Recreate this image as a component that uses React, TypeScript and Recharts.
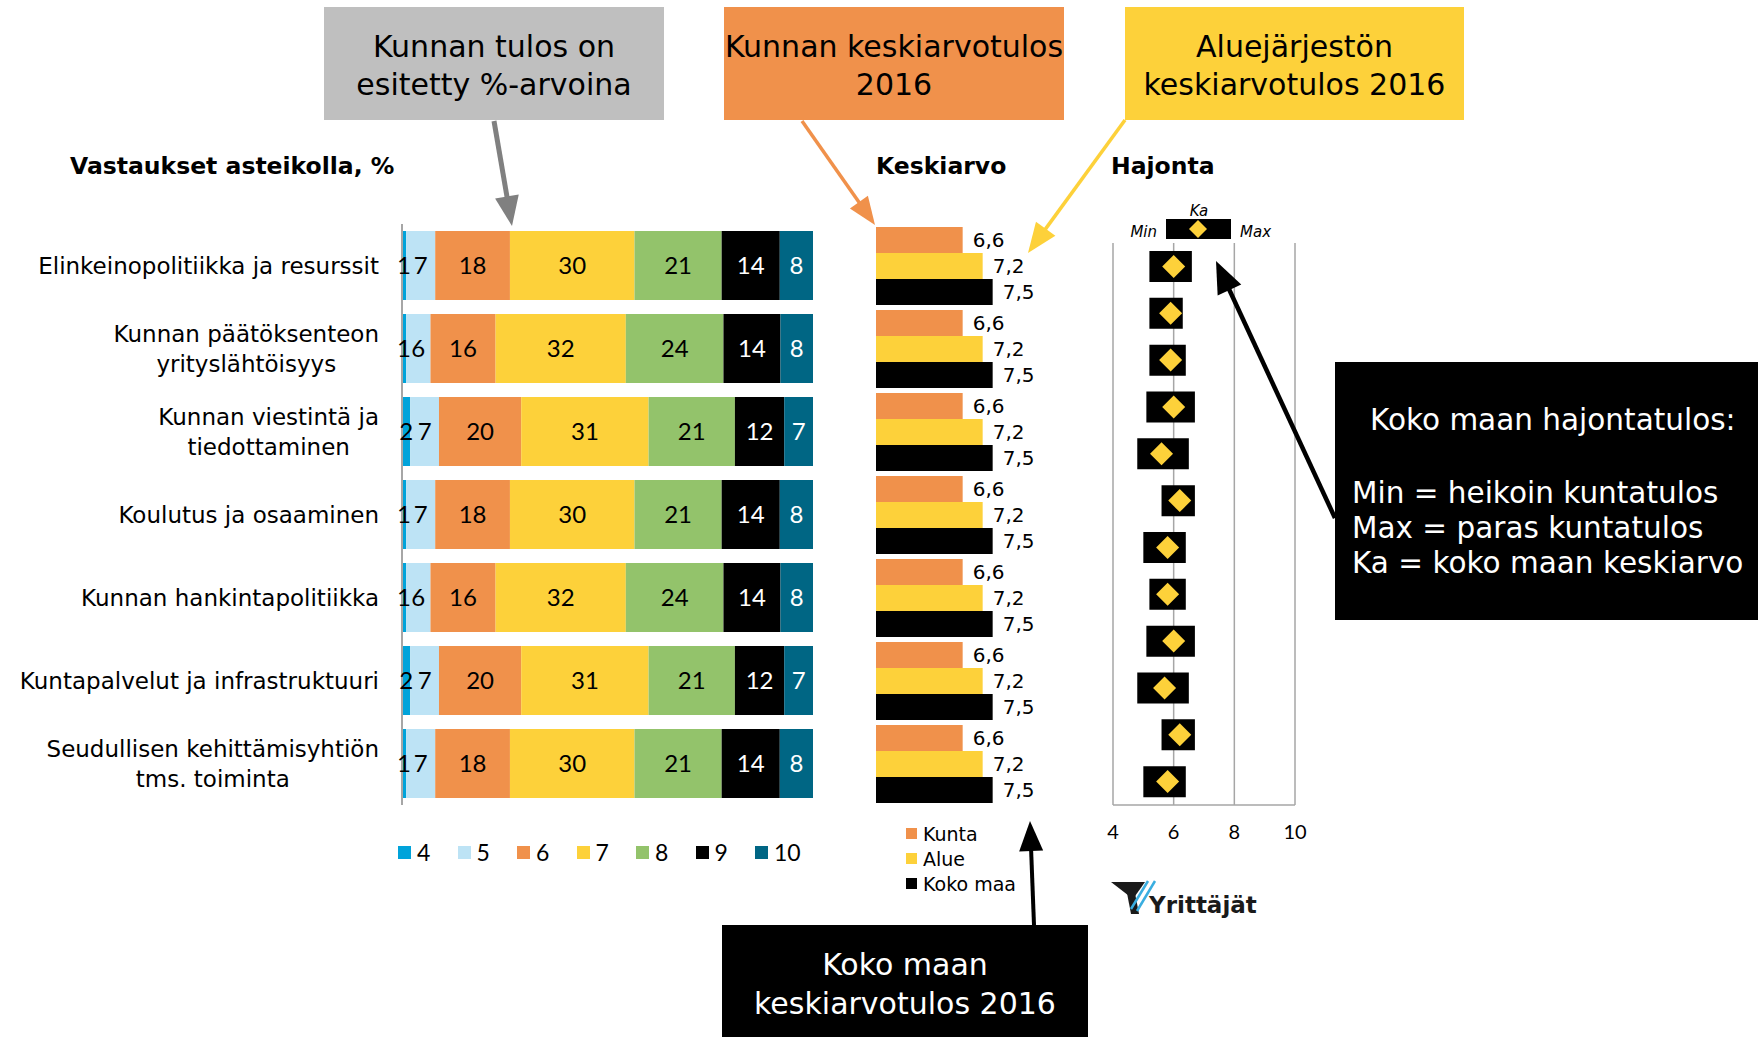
import React from 'react'
import {
  BarChart,
  Bar,
  XAxis,
  YAxis,
  LabelList,
  Legend,
  ComposedChart,
  Scatter,
  CartesianGrid,
} from 'recharts'

// Vastaukset asteikolla (%), rivit ylhäältä alas
const topics = [
  'Elinkeinopolitiikka ja resurssit',
  'Kunnan päätöksenteon\nyrityslähtöisyys',
  'Kunnan viestintä ja\ntiedottaminen',
  'Koulutus ja osaaminen',
  'Kunnan hankintapolitiikka',
  'Kuntapalvelut ja infrastruktuuri',
  'Seudullisen kehittämisyhtiön\ntms. toiminta',
]
const scaleNames = ['4', '5', '6', '7', '8', '9', '10']
const s4 = [1, 1, 2, 1, 1, 2, 1]
const s5 = [7, 6, 7, 7, 6, 7, 7]
const s6 = [18, 16, 20, 18, 16, 20, 18]
const s7 = [30, 32, 31, 30, 32, 31, 30]
const s8 = [21, 24, 21, 21, 24, 21, 21]
const s9 = [14, 14, 12, 14, 14, 12, 14]
const s10 = [8, 8, 7, 8, 8, 7, 8]

// Keskiarvo
const meanNames = ['Kunta', 'Alue', 'Koko maa']
const kunta = [6.6, 6.6, 6.6, 6.6, 6.6, 6.6, 6.6]
const alue = [7.2, 7.2, 7.2, 7.2, 7.2, 7.2, 7.2]
const kokoMaa = [7.5, 7.5, 7.5, 7.5, 7.5, 7.5, 7.5]

// Hajonta (min, max, koko maan keskiarvo)
const hajontaMin = [5.2, 5.2, 5.2, 5.1, 4.8, 5.6, 5.0, 5.2, 5.1, 4.8, 5.6, 5.0]
const hajontaMax = [6.6, 6.3, 6.4, 6.7, 6.5, 6.7, 6.4, 6.4, 6.7, 6.5, 6.7, 6.4]
const hajontaKa = [6.0, 5.9, 5.9, 6.0, 5.6, 6.2, 5.8, 5.8, 6.0, 5.7, 6.2, 5.8]
const hajontaTicks = [4, 6, 8, 10]

const scaleColors = ['#00A3DA', '#BDE3F5', '#F0914B', '#FDD13A', '#93C36B', '#000000', '#006684']
const labelColors = ['#000', '#000', '#000', '#000', '#000', '#fff', '#fff']
const GRAY = '#A6A6A6'
const FONT = '"DejaVu Sans", sans-serif'

const stackData = topics.map((t, i) => ({
  topic: t,
  s4: s4[i],
  s5: s5[i],
  s6: s6[i],
  s7: s7[i],
  s8: s8[i],
  s9: s9[i],
  s10: s10[i],
}))
const scaleKeys = ['s4', 's5', 's6', 's7', 's8', 's9', 's10']

const meanData = topics.map((t, i) => ({ topic: t, kunta: kunta[i], alue: alue[i], koko: kokoMaa[i] }))

const rangeData = hajontaMin.map((m, i) => ({
  id: 'r' + (i + 1),
  range: [m, hajontaMax[i]],
  ka: hajontaKa[i],
}))

let ctx: CanvasRenderingContext2D | null = null
function textWidth(t: string, font: string) {
  if (!ctx) ctx = document.createElement('canvas').getContext('2d')
  if (!ctx) return t.length * 12
  ctx.font = font
  return ctx.measureText(t).width
}

function TopicTick({ x, y, payload }: any) {
  const lines = String(payload.value).split('\n')
  const w = Math.max(...lines.map((l) => textWidth(l, '23px "DejaVu Sans"')))
  const cx = x - w / 2
  const y0 = y - ((lines.length - 1) * 30) / 2
  return (
    <g>
      {lines.map((l, i) => (
        <text
          key={i}
          x={cx}
          y={y0 + i * 30}
          textAnchor="middle"
          dominantBaseline="central"
          fontSize={23}
          fontFamily={FONT}
          fill="#000"
        >
          {l}
        </text>
      ))}
    </g>
  )
}

// pidä selitteen järjestys sarjojen järjestyksessä
const ordered = (payload: any[], names: string[]) =>
  [...(payload || [])].sort((a, b) => names.indexOf(a.value) - names.indexOf(b.value))

function ScaleLegend({ payload }: any) {
  return (
    <div style={{ display: 'flex', fontFamily: 'Lato, sans-serif', fontSize: 23 }}>
      {ordered(payload, scaleNames).map((p: any) => (
        <div key={p.value} style={{ width: 59.5, display: 'flex', alignItems: 'center' }}>
          <span style={{ width: 13, height: 13, background: p.color, display: 'inline-block', marginRight: 6 }} />
          <span>{p.value}</span>
        </div>
      ))}
    </div>
  )
}

function MeanLegend({ payload }: any) {
  return (
    <div style={{ fontFamily: FONT, fontSize: 19 }}>
      {ordered(payload, meanNames).map((p: any) => (
        <div key={p.value} style={{ height: 25, display: 'flex', alignItems: 'center' }}>
          <span style={{ width: 11, height: 11, background: p.color, display: 'inline-block', marginRight: 6 }} />
          <span>{p.value}</span>
        </div>
      ))}
    </div>
  )
}

const Diamond = (p: any) => {
  const { cx, cy } = p
  const r = 11.5
  return (
    <polygon
      points={`${cx},${cy - r} ${cx + r},${cy} ${cx},${cy + r} ${cx - r},${cy}`}
      fill="#FDD13A"
    />
  )
}

function Arrow({ x1, y1, x2, y2, color, width, len, half }: any) {
  const dx = x2 - x1
  const dy = y2 - y1
  const d = Math.sqrt(dx * dx + dy * dy)
  const ux = dx / d
  const uy = dy / d
  const bx = x2 - ux * len
  const by = y2 - uy * len
  const px = -uy * half
  const py = ux * half
  return (
    <g>
      <line x1={x1} y1={y1} x2={bx + ux * 2} y2={by + uy * 2} stroke={color} strokeWidth={width} />
      <polygon points={`${x2},${y2} ${bx + px},${by + py} ${bx - px},${by - py}`} fill={color} />
    </g>
  )
}

function Callout({ x, y, w, h, fill, color, lines, cy }: any) {
  return (
    <g>
      <rect x={x} y={y} width={w} height={h} fill={fill} />
      {lines.map((l: string, i: number) => (
        <text
          key={i}
          x={x + w / 2}
          y={cy[i]}
          textAnchor="middle"
          dominantBaseline="central"
          fontSize={30}
          fill={color}
        >
          {l}
        </text>
      ))}
    </g>
  )
}

function Overlay() {
  return (
    <svg
      width={1758}
      height={1037}
      style={{ position: 'absolute', left: 0, top: 0, pointerEvents: 'none' }}
      fontFamily={FONT}
    >
      <text x={70} y={166} fontSize={23.5} fontWeight="bold" dominantBaseline="central">
        Vastaukset asteikolla, %
      </text>
      <text x={876} y={166} fontSize={23.5} fontWeight="bold" dominantBaseline="central">
        Keskiarvo
      </text>
      <text x={1111} y={166} fontSize={23.5} fontWeight="bold" dominantBaseline="central">
        Hajonta
      </text>

      <Callout x={324} y={7} w={340} h={113} fill="#BFBFBF" color="#000" lines={['Kunnan tulos on', 'esitetty %-arvoina']} cy={[46, 84]} />
      <Callout x={724} y={7} w={340} h={113} fill="#F0914B" color="#000" lines={['Kunnan keskiarvotulos', '2016']} cy={[46, 84]} />
      <Callout x={1125} y={7} w={339} h={113} fill="#FDD13A" color="#000" lines={['Aluejärjestön', 'keskiarvotulos 2016']} cy={[46, 84]} />
      <Callout x={722} y={925} w={366} h={112} fill="#000" color="#fff" lines={['Koko maan', 'keskiarvotulos 2016']} cy={[964, 1003]} />

      <rect x={1335} y={362} width={423} height={258} fill="#000" />
      <g fill="#fff" fontSize={29.5}>
        <text x={1370} y={420} dominantBaseline="central">Koko maan hajontatulos:</text>
        <text x={1352} y={493} dominantBaseline="central">Min = heikoin kuntatulos</text>
        <text x={1352} y={528} dominantBaseline="central">Max = paras kuntatulos</text>
        <text x={1352} y={563} dominantBaseline="central">Ka = koko maan keskiarvo</text>
      </g>

      <Arrow x1={494} y1={121} x2={512} y2={226} color="#808080" width={5} len={30} half={12} />
      <Arrow x1={802} y1={121} x2={875} y2={225} color="#F0914B" width={3.5} len={28} half={11} />
      <Arrow x1={1125} y1={120} x2={1028} y2={253} color="#FDD13A" width={3.5} len={30} half={12} />
      <Arrow x1={1335} y1={518} x2={1216} y2={261} color="#000" width={4.5} len={32} half={13} />
      <Arrow x1={1034} y1={925} x2={1030} y2={821} color="#000" width={4} len={30} half={12} />

      {/* hajonnan selite */}
      <rect x={1166} y={219} width={65} height={20} fill="#000" />
      <polygon points="1198,220 1207,229 1198,238 1189,229" fill="#FDD13A" />
      <g fontSize={15} fontStyle="italic" fill="#000">
        <text x={1199} y={211} textAnchor="middle" dominantBaseline="central">Ka</text>
        <text x={1157} y={232} textAnchor="end" dominantBaseline="central">Min</text>
        <text x={1240} y={232} dominantBaseline="central">Max</text>
      </g>

      {/* logo */}
      <polygon points="1111,882 1145,882 1133,899" fill="#1a1a1a" />
      <polygon points="1127,893 1135,893 1139,914 1131,914" fill="#1a1a1a" />
      <line x1={1148} y1={881} x2={1131} y2={909} stroke="#3AAEE0" strokeWidth={2.5} />
      <line x1={1155} y1={881} x2={1137} y2={911} stroke="#3AAEE0" strokeWidth={2.5} />
      <text x={1149} y={913} fontSize={23} fontWeight="bold" fill="#1a1a1a">
        Yrittäjät
      </text>
    </svg>
  )
}

export default function App() {
  return (
    <div
      style={{
        position: 'absolute',
        left: 0,
        top: 0,
        width: 1758,
        height: 1037,
        background: '#fff',
        fontFamily: FONT,
        overflow: 'hidden',
      }}
    >
      <div style={{ position: 'absolute', left: 0, top: 200 }}>
        <BarChart
          width={830}
          height={700}
          layout="vertical"
          data={stackData}
          stackOffset="expand"
          margin={{ top: 24, right: 17, bottom: 95, left: 0 }}
        >
          <XAxis type="number" domain={[0, 1]} hide />
          <YAxis
            type="category"
            dataKey="topic"
            width={402}
            axisLine={{ stroke: GRAY, strokeWidth: 2 }}
            tickLine={false}
            tickSize={0}
            tickMargin={23}
            tick={<TopicTick />}
            interval={0}
          />
          {scaleKeys.map((k, i) => (
            <Bar
              key={k}
              dataKey={k}
              name={scaleNames[i]}
              stackId="a"
              fill={scaleColors[i]}
              barSize={69}
              isAnimationActive={false}
            >
              <LabelList
                dataKey={k}
                position="center"
                fill={labelColors[i]}
                fontSize={24}
                fontFamily="Lato, sans-serif"
              />
            </Bar>
          ))}
          <Legend
            layout="horizontal"
            verticalAlign="middle"
            align="center"
            itemSorter={null as any}
            content={<ScaleLegend />}
            wrapperStyle={{ left: 398, top: 638, width: 440, height: 26 }}
          />
        </BarChart>
      </div>

      <div style={{ position: 'absolute', left: 860, top: 200 }}>
        <BarChart
          width={260}
          height={700}
          layout="vertical"
          data={meanData}
          barGap={0}
          margin={{ top: 24, right: 44, bottom: 95, left: 16 }}
        >
          <XAxis type="number" domain={[4, 10]} hide />
          <YAxis
            type="category"
            dataKey="topic"
            width={0}
            tick={false}
            tickLine={false}
            axisLine={{ stroke: GRAY, strokeWidth: 2 }}
          />
          <Bar dataKey="kunta" name={meanNames[0]} fill="#F0914B" barSize={26} isAnimationActive={false}>
            <LabelList dataKey="kunta" position="right" offset={10} fontSize={20} fill="#000" formatter={(v: any) => String(v).replace('.', ',')} />
          </Bar>
          <Bar dataKey="alue" name={meanNames[1]} fill="#FDD13A" barSize={26} isAnimationActive={false}>
            <LabelList dataKey="alue" position="right" offset={10} fontSize={20} fill="#000" formatter={(v: any) => String(v).replace('.', ',')} />
          </Bar>
          <Bar dataKey="koko" name={meanNames[2]} fill="#000000" barSize={26} isAnimationActive={false}>
            <LabelList dataKey="koko" position="right" offset={10} fontSize={20} fill="#000" formatter={(v: any) => String(v).replace('.', ',')} />
          </Bar>
          <Legend
            layout="horizontal"
            verticalAlign="middle"
            align="center"
            itemSorter={null as any}
            content={<MeanLegend />}
            wrapperStyle={{ left: 46, top: 621, width: 140, height: 75 }}
          />
        </BarChart>
      </div>

      <div style={{ position: 'absolute', left: 1090, top: 200 }}>
        <ComposedChart
          width={230}
          height={650}
          layout="vertical"
          data={rangeData}
          margin={{ top: 43, right: 25, bottom: 15, left: 23 }}
        >
          <CartesianGrid horizontal={false} stroke={GRAY} strokeWidth={1.5} />
          <XAxis
            type="number"
            domain={[4, 10]}
            ticks={hajontaTicks}
            height={30}
            axisLine={{ stroke: GRAY, strokeWidth: 1.5 }}
            tickLine={false}
            tickSize={0}
            tickMargin={20}
            tick={{ fontSize: 20, fill: '#000', fontFamily: 'Lato, sans-serif' }}
          />
          <XAxis
            xAxisId="top"
            orientation="top"
            type="number"
            domain={[4, 10]}
            height={0}
            tick={false}
            tickLine={false}
            axisLine={{ stroke: GRAY, strokeWidth: 1.5 }}
          />
          <YAxis type="category" dataKey="id" hide />
          <Bar dataKey="range" fill="#000" barSize={31} isAnimationActive={false} />
          <Scatter dataKey="ka" shape={Diamond} isAnimationActive={false} />
        </ComposedChart>
      </div>

      <Overlay />
    </div>
  )
}
